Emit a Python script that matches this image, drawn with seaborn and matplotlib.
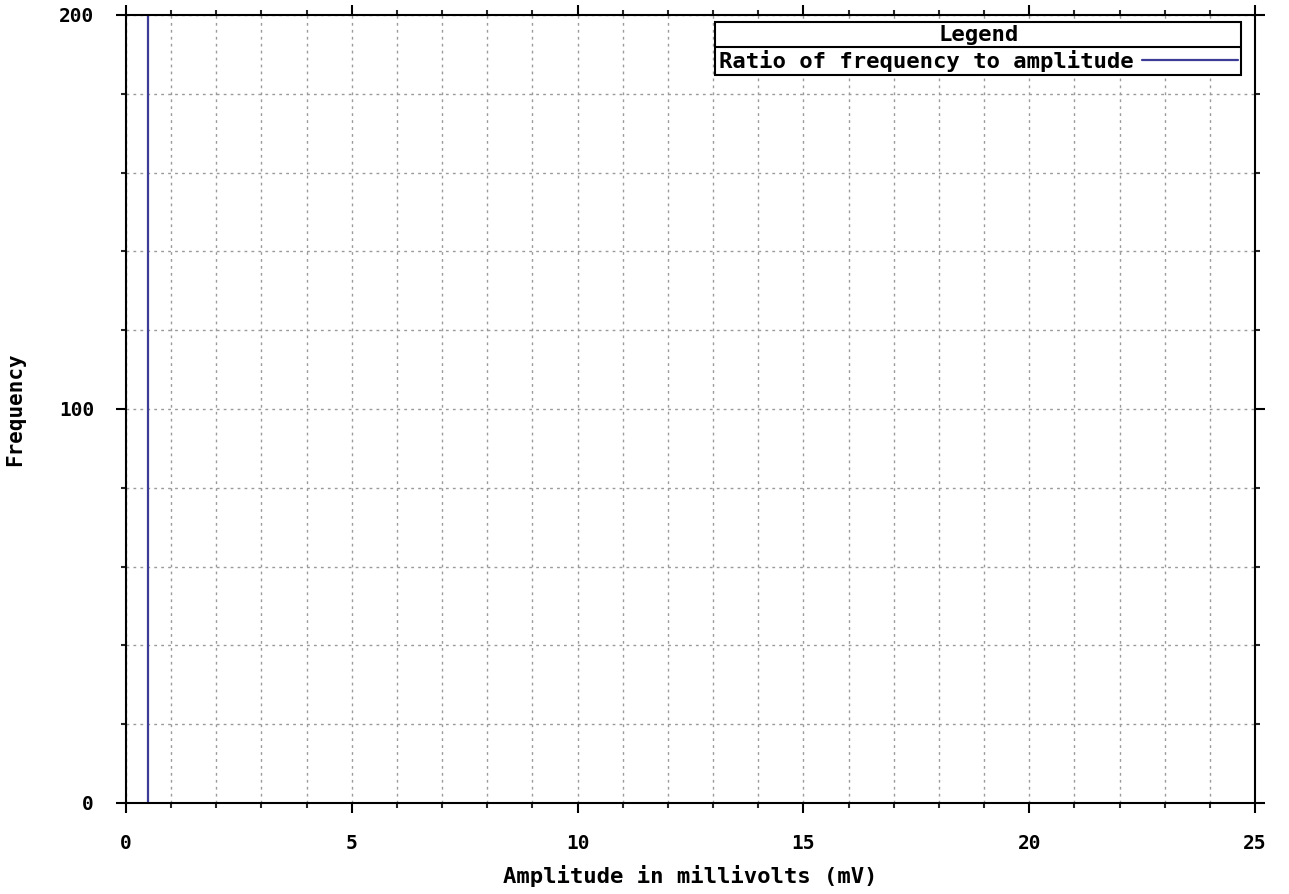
import matplotlib
matplotlib.use("Agg")
import matplotlib.pyplot as plt
import seaborn as sns
import numpy as np
import pandas as pd
from matplotlib.ticker import MultipleLocator
from matplotlib.lines import Line2D

# Data
amplitude = [0.48, 0.48]
frequency = [0.0, 200.0]
series_name = "Ratio of frequency to amplitude"
x_major = [0, 5, 10, 15, 20, 25]
y_major = [0, 100, 200]

sns.set_style("ticks")
plt.rcParams['font.family'] = ['DejaVu Sans Mono', 'DejaVu Sans']
plt.rcParams['font.weight'] = 'bold'
plt.rcParams['text.color'] = 'black'

fig = plt.figure(figsize=(12.89, 8.94), dpi=100)
W, H = 1289, 894
ax = fig.add_axes([126 / W, 1 - 803 / H, (1255 - 126) / W, (803 - 15) / H])

df = pd.DataFrame({"Amplitude": amplitude, "Frequency": frequency})
sns.lineplot(data=df, x="Amplitude", y="Frequency", estimator=None, sort=False,
             color="#3c3c96", linewidth=1.6, ax=ax, label=series_name)

ax.set_xlim(0, 25)
ax.set_ylim(0, 200)
ax.set_xticks(x_major)
ax.set_yticks(y_major)
ax.xaxis.set_minor_locator(MultipleLocator(1))
ax.yaxis.set_minor_locator(MultipleLocator(20))

ax.grid(True, which="both", color="#9a9a9a", linestyle=(0, (2, 3)), linewidth=1.0)
ax.set_axisbelow(True)

for s in ax.spines.values():
    s.set_visible(True)
    s.set_color("black")
    s.set_linewidth(1.5)

ax.tick_params(which="major", direction="out", length=7, width=1.5,
               top=True, right=True, labelsize=14, colors="black")
ax.tick_params(which="minor", direction="out", length=3.5, width=1.5,
               top=True, right=True)
ax.tick_params(axis="x", which="major", pad=15)
ax.tick_params(axis="y", which="major", pad=16)
for lab in ax.get_xticklabels() + ax.get_yticklabels():
    lab.set_fontweight("bold")
    lab.set_color("black")

ax.set_xlabel("Amplitude in millivolts (mV)", fontsize=16, fontweight="bold",
              labelpad=9, color="black")
ax.set_ylabel("Frequency", fontsize=15, fontweight="bold", labelpad=24, color="black")

leg = ax.legend(loc="upper right", bbox_to_anchor=(1241 / W, 1 - 22 / H),
                bbox_transform=fig.transFigure, title="Legend", markerfirst=False,
                frameon=True, fancybox=False, framealpha=1, edgecolor="black",
                borderpad=0.15, handlelength=4.3, handletextpad=0.4,
                labelspacing=0.2,
                prop={"size": 16, "weight": "bold"},
                title_fontproperties={"size": 16, "weight": "bold"},
                borderaxespad=0)
leg.get_frame().set_linewidth(1.5)
for t in leg.get_texts():
    t.set_color("black")
leg.get_title().set_color("black")

fig.canvas.draw()
bb = leg.get_window_extent()
tb = leg.get_title().get_window_extent()
ymid = tb.y0 - 2
fig.add_artist(Line2D([bb.x0 / W, bb.x1 / W], [ymid / H, ymid / H],
                      transform=fig.transFigure, color="black", linewidth=1.5))

fig.savefig("out.png", dpi=100)
